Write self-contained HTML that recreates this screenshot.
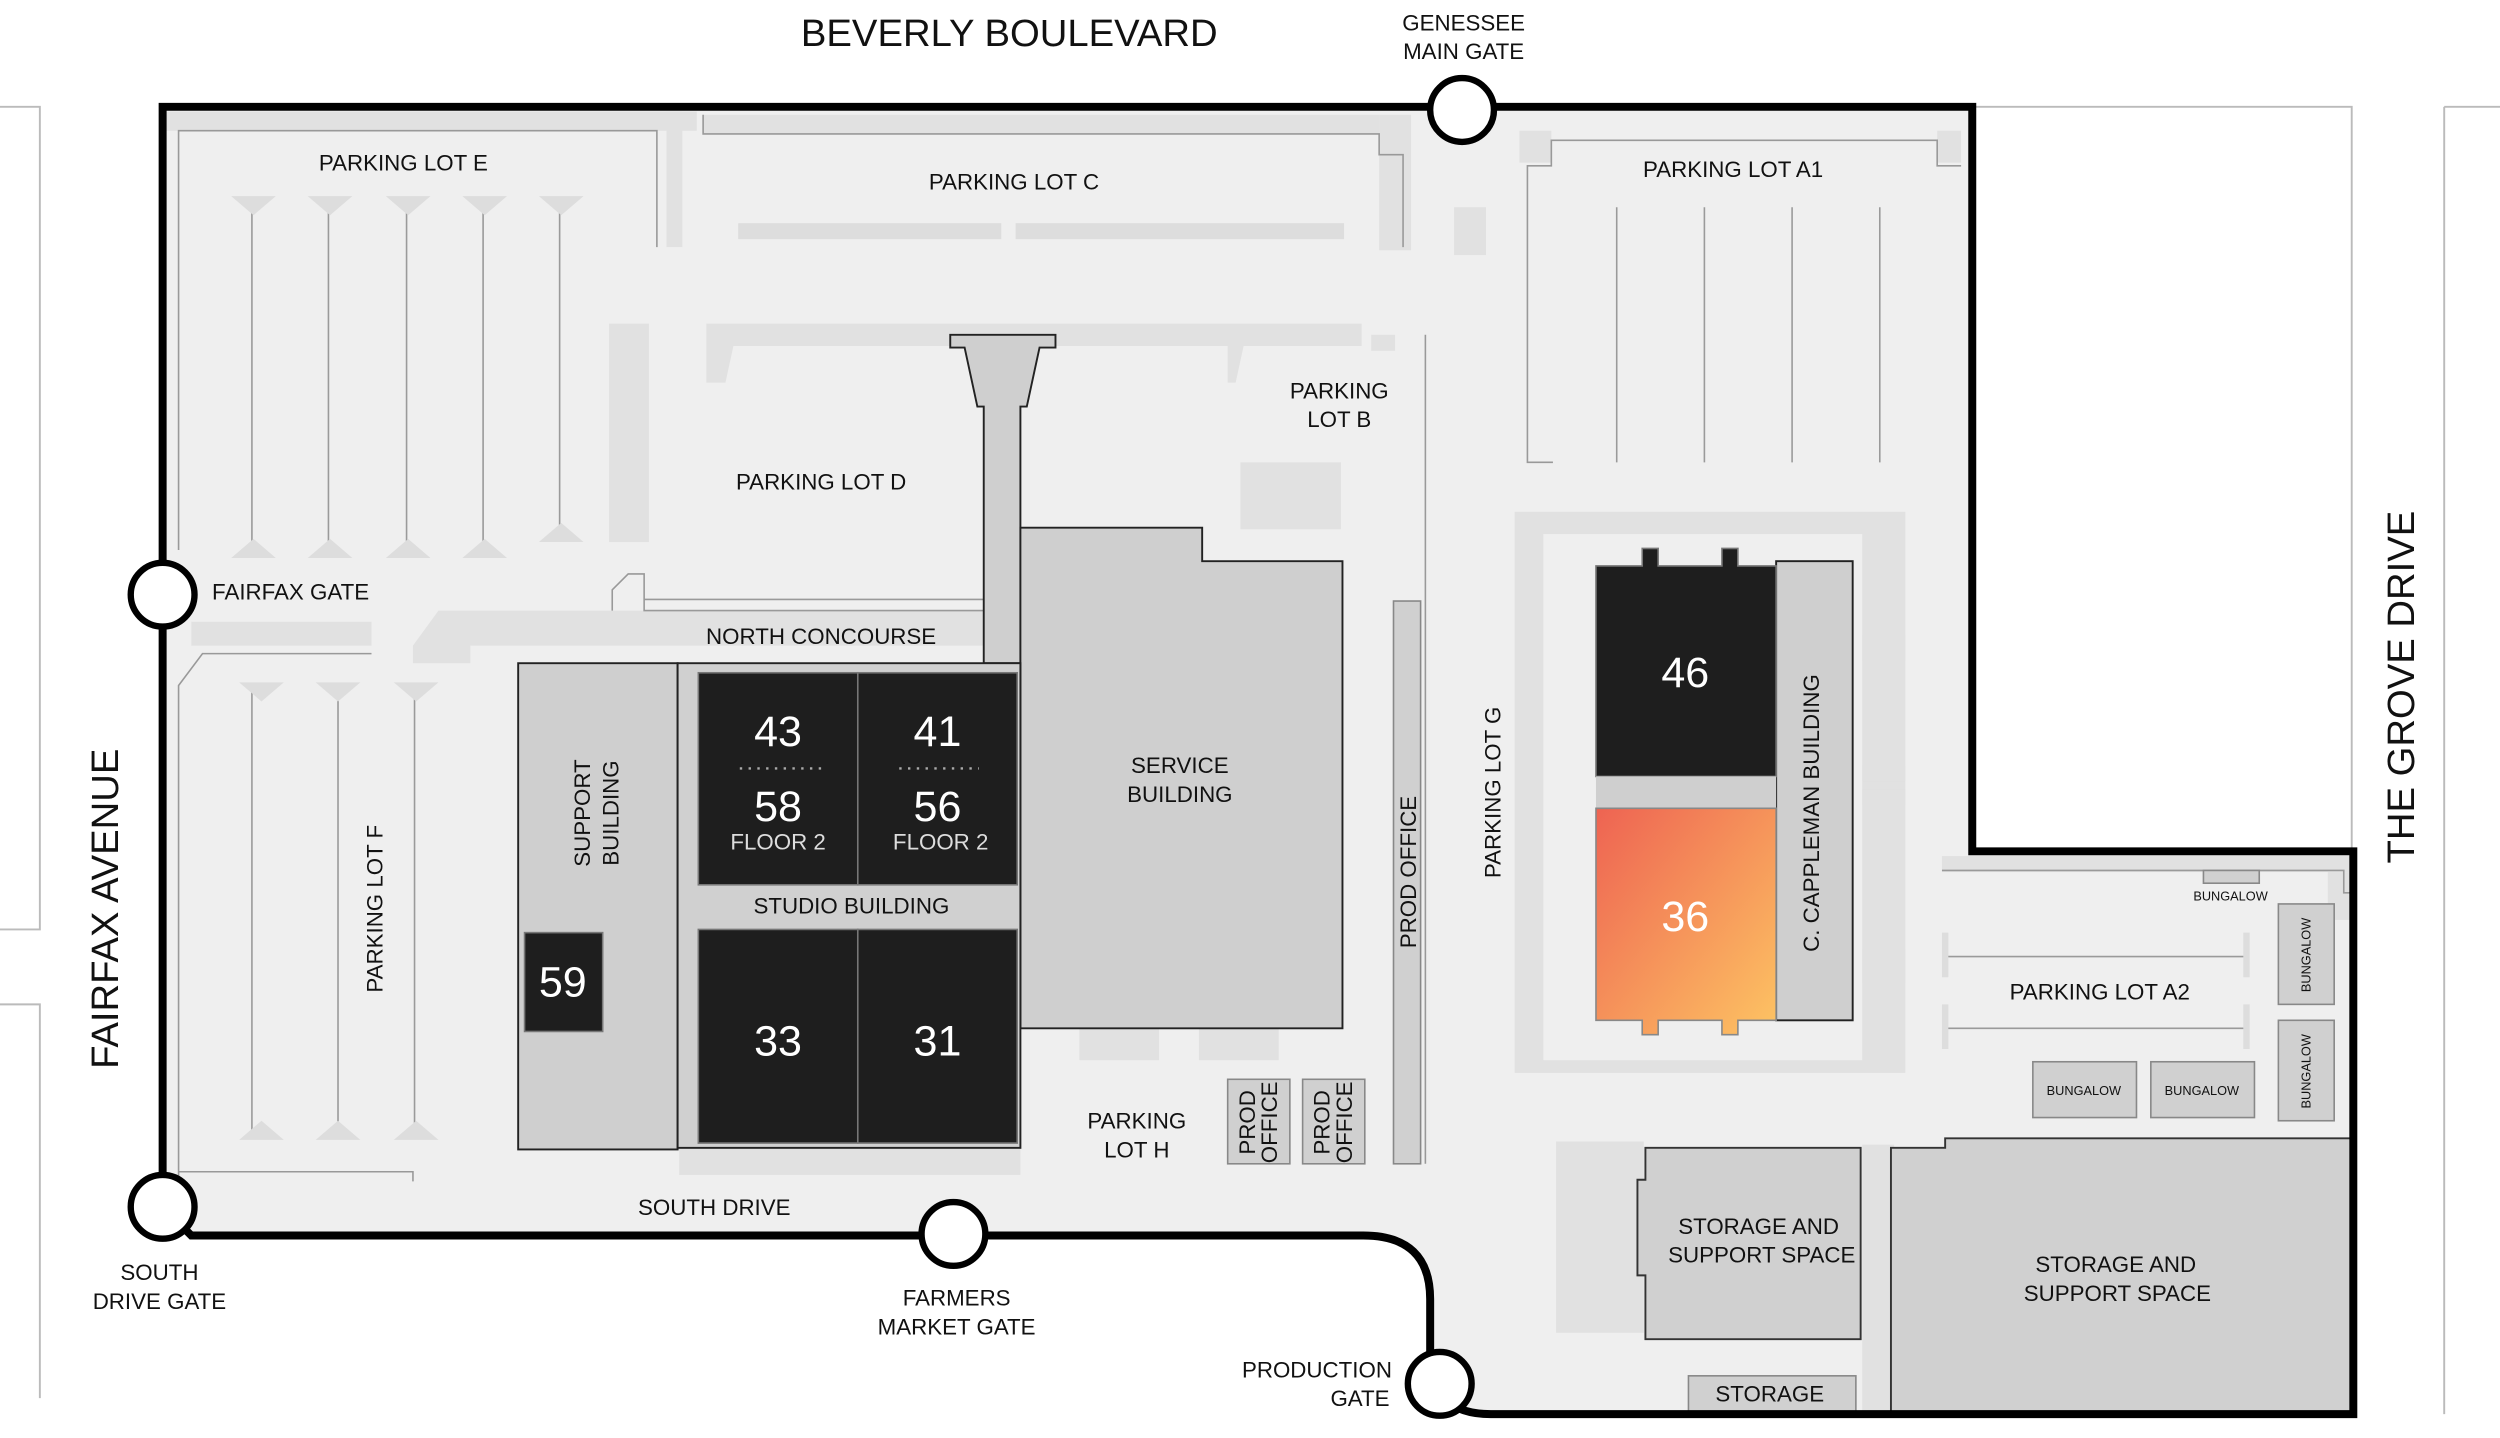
<!DOCTYPE html>
<html><head><meta charset="utf-8"><style>html,body{margin:0;padding:0;background:#fff}svg{display:block}text{font-family:"Liberation Sans",sans-serif;fill:#111}text.w{fill:#fff}text.l{fill:#ddd}</style></head><body>
<svg width="2500" height="1438" viewBox="0 0 1568 902" preserveAspectRatio="none" xmlns="http://www.w3.org/2000/svg">
<defs><linearGradient id="g" x1="0" y1="0" x2="1" y2="1"><stop offset="0" stop-color="#ee6352"/><stop offset="1" stop-color="#fdc463"/></linearGradient></defs>
<rect width="1568" height="902" fill="#fff"/>
<g stroke="#bbb" stroke-width="1.2" fill="none">
<path d="M0 67H25V583H0"/><path d="M0 630H25V877"/>
<path d="M1237 67H1475V534"/><path d="M1533 67V887"/><path d="M1533 67H1568"/>
</g>
<path d="M102 67H1237V534H1476V887H935Q897 887 897 850V815Q897 775 855 775H120L102 757Z" fill="#efefef"/>
<g fill="#e1e1e1">
<rect x="102" y="70" width="335" height="12"/>
<rect x="418" y="70" width="10" height="85"/>
<rect x="441" y="72" width="424" height="12"/>
<rect x="865" y="72" width="20" height="85"/>
<rect x="912" y="130" width="20" height="30"/>
<rect x="382" y="203" width="25" height="137"/>
<path d="M443 203H854V217H780L775 240H770V217H460L455 240H443Z"/>
<rect x="778" y="290" width="63" height="42"/>
<rect x="860" y="210" width="15" height="10"/>
<path d="M259 405L275 383H617V405H295V416H259Z"/>
<rect x="120" y="390" width="113" height="15"/>
<rect x="950" y="321" width="245" height="352"/>
<rect x="976" y="716" width="55" height="120"/>
<rect x="1060" y="863" width="104" height="24"/>
<rect x="1168" y="718" width="20" height="169"/>
<rect x="677" y="645" width="50" height="20"/>
<rect x="752" y="645" width="50" height="20"/>
<rect x="426" y="720" width="214" height="17"/>
<rect x="953" y="82" width="20" height="20"/>
<rect x="1215" y="82" width="15" height="20"/>
<rect x="1218" y="537" width="258" height="10"/>
<rect x="1460" y="547" width="16" height="30"/>
</g>
<rect x="968" y="335" width="200" height="330" fill="#efefef"/>
<g fill="#e1e1e1"><rect x="1168" y="398" width="27" height="17"/><rect x="1168" y="480" width="27" height="10"/><rect x="1168" y="495" width="27" height="10"/><rect x="1168" y="595" width="27" height="22"/></g>
<g fill="none" stroke="#999" stroke-width="1">
<path d="M112 345V82H412V155"/>
<path d="M441 72V84H865V97H880V155"/>
<path d="M974 290H958V104H973V88H1215V104H1230"/>
<path d="M112 760V430L127 410H233"/>
<path d="M112 735H259V741"/>
<path d="M384 383V370L394 360H404V383H617"/>
<path d="M404 376H617"/>
<path d="M894 210V730"/>
<path d="M1218 546H1470V560H1476"/>
</g>
<g stroke="#9a9a9a" stroke-width="1">
<path d="M158 128V340M206 128V340M255 128V340M303 128V340M351 128V340"/>
<path d="M158 430V712M212 430V712M260 430V712"/>
<path d="M1014 130V290M1069 130V290M1124 130V290M1179 130V290"/>
<path d="M1220 600H1410M1220 645H1410"/>
</g>
<g fill="#ddd">
<path d="M145 123h28l-14 12zM193 123h28l-14 12zM242 123h28l-14 12zM290 123h28l-14 12zM338 123h28l-14 12z"/>
<path d="M145 350h28l-14-12zM193 350h28l-14-12zM242 350h28l-14-12zM290 350h28l-14-12zM338 340h28l-14-12z"/>
<path d="M150 428h28l-14 12zM198 428h28l-14 12zM247 428h28l-14 12z"/>
<path d="M150 715h28l-14-12zM198 715h28l-14-12zM247 715h28l-14-12z"/>
<rect x="463" y="140" width="165" height="10"/><rect x="637" y="140" width="206" height="10"/>
<rect x="1218" y="585" width="4" height="28"/><rect x="1407" y="585" width="4" height="28"/>
<rect x="1218" y="630" width="4" height="28"/><rect x="1407" y="630" width="4" height="28"/>
</g>
<g stroke="#222" stroke-width="1.2">
<path d="M596 210H662V218H652L644 255H640V416H617V255H613L605 218H596Z" fill="#cfcfcf"/>
<path d="M640 331H754V352H842V645H640Z" fill="#cfcfcf"/>
<rect x="325" y="416" width="100" height="305" fill="#cfcfcf"/>
<rect x="425" y="416" width="215" height="304" fill="#d0d0d0"/>
<rect x="1114" y="352" width="48" height="288" fill="#cfcfcf"/>
</g>
<g fill="#1e1e1e" stroke="#777" stroke-width="1">
<rect x="438" y="422" width="100" height="133"/><rect x="538" y="422" width="100" height="133"/>
<rect x="438" y="583" width="100" height="134"/><rect x="538" y="583" width="100" height="134"/>
<rect x="329" y="585" width="49" height="62"/>
<path d="M1001 355H1030V344H1040V355H1080V344H1090V355H1114V487H1001Z"/>
</g>
<rect x="1001" y="487" width="113" height="20" fill="#cfcfcf"/>
<path d="M1001 507H1114V640H1090V649H1080V640H1040V649H1030V640H1001Z" fill="url(#g)" stroke="#888"/>
<g fill="#d0d0d0" stroke="#888" stroke-width="1">
<rect x="874" y="377" width="17" height="353"/>
<rect x="770" y="677" width="39" height="53"/><rect x="817" y="677" width="39" height="53"/>
<rect x="1382" y="546" width="35" height="8"/>
<rect x="1429" y="567" width="35" height="63"/><rect x="1429" y="640" width="35" height="63"/>
<rect x="1275" y="666" width="65" height="35"/><rect x="1349" y="666" width="65" height="35"/>
<rect x="1059" y="863" width="105" height="24"/>
</g>
<g fill="#d0d0d0" stroke="#333" stroke-width="1.2">
<path d="M1032 720H1167V840H1032V800H1027V740H1032Z"/>
<path d="M1186 720H1220V714H1475V887H1186Z"/>
</g>
<path d="M102 67H1237V534H1476V887H935Q897 887 897 850V815Q897 775 855 775H120L102 757Z" fill="none" stroke="#000" stroke-width="5"/>
<g fill="#fff" stroke="#000" stroke-width="4">
<circle cx="917" cy="69" r="20"/><circle cx="102" cy="373" r="20"/><circle cx="102" cy="757" r="20"/><circle cx="598" cy="774" r="20"/><circle cx="903" cy="868" r="20"/>
</g>
<g stroke="#aaa" stroke-width="1.5" stroke-dasharray="1.5 4"><path d="M464 482H515M564 482H614"/></g>
<g font-size="14" text-anchor="middle">
<text x="633" y="29" font-size="24">BEVERLY BOULEVARD</text>
<text x="918" y="19">GENESSEE</text><text x="918" y="37">MAIN GATE</text>
<text x="253" y="107">PARKING LOT E</text>
<text x="636" y="119">PARKING LOT C</text>
<text x="1087" y="111">PARKING LOT A1</text>
<text x="840" y="250">PARKING</text><text x="840" y="268">LOT B</text>
<text x="515" y="307">PARKING LOT D</text>
<text x="133" y="376" text-anchor="start">FAIRFAX GATE</text>
<text x="515" y="404">NORTH CONCOURSE</text>
<text x="534" y="573">STUDIO BUILDING</text>
<text x="740" y="485">SERVICE</text><text x="740" y="503">BUILDING</text>
<text x="713" y="708">PARKING</text><text x="713" y="726">LOT H</text>
<text x="448" y="762">SOUTH DRIVE</text>
<text x="100" y="803">SOUTH</text><text x="100" y="821">DRIVE GATE</text>
<text x="600" y="819">FARMERS</text><text x="600" y="837">MARKET GATE</text>
<text x="826" y="864">PRODUCTION</text><text x="853" y="882">GATE</text>
<text x="1103" y="774">STORAGE AND</text><text x="1105" y="792">SUPPORT SPACE</text>
<text x="1327" y="798">STORAGE AND</text><text x="1328" y="816">SUPPORT SPACE</text>
<text x="1110" y="879">STORAGE</text>
<text x="1317" y="627">PARKING LOT A2</text>
<text x="1399" y="565" font-size="8">BUNGALOW</text>
<text x="1307" y="687" font-size="8">BUNGALOW</text><text x="1381" y="687" font-size="8">BUNGALOW</text>
<text transform="translate(1449 599) rotate(-90)" font-size="8">BUNGALOW</text>
<text transform="translate(1449 672) rotate(-90)" font-size="8">BUNGALOW</text>
<text transform="translate(240 570) rotate(-90)">PARKING LOT F</text>
<text transform="translate(370 510) rotate(-90)">SUPPORT</text><text transform="translate(388 510) rotate(-90)">BUILDING</text>
<text transform="translate(888 547) rotate(-90)">PROD OFFICE</text>
<text transform="translate(941 497) rotate(-90)">PARKING LOT G</text>
<text transform="translate(1141 510) rotate(-90)">C. CAPPLEMAN BUILDING</text>
<text transform="translate(787 704) rotate(-90)">PROD</text><text transform="translate(801 704) rotate(-90)">OFFICE</text>
<text transform="translate(834 704) rotate(-90)">PROD</text><text transform="translate(848 704) rotate(-90)">OFFICE</text>
<text transform="translate(74 570) rotate(-90)" font-size="24">FAIRFAX AVENUE</text>
<text transform="translate(1514 431) rotate(-90)" font-size="24">THE GROVE DRIVE</text>
</g>
<g font-size="27" text-anchor="middle">
<text class="w" x="488" y="468">43</text><text class="w" x="588" y="468">41</text>
<text class="w" x="488" y="515">58</text><text class="w" x="588" y="515">56</text>
<text class="l" x="488" y="533" font-size="14">FLOOR 2</text><text class="l" x="590" y="533" font-size="14">FLOOR 2</text>
<text class="w" x="488" y="662">33</text><text class="w" x="588" y="662">31</text>
<text class="w" x="353" y="625">59</text>
<text class="w" x="1057" y="431">46</text><text class="w" x="1057" y="584">36</text>
</g>
</svg>
</body></html>
